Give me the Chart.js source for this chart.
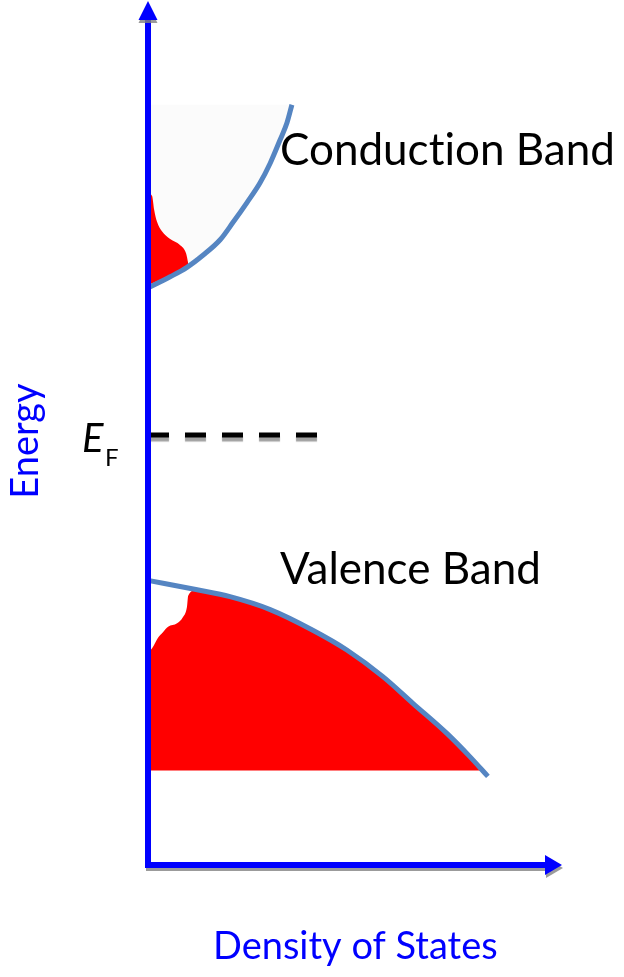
<!DOCTYPE html>
<html>
<head>
<meta charset="utf-8">
<script src="https://cdn.jsdelivr.net/npm/chart.js@4.4.1/dist/chart.umd.min.js"></script>
<style>
  html, body { margin: 0; padding: 0; background: #ffffff; }
  #wrap { width: 624px; height: 977px; }
</style>
</head>
<body>
<div id="wrap"><canvas id="dos-chart" width="624" height="977"></canvas></div>
<script>
// density of states (x) vs energy (y), arbitrary units
const conductionDos = [0, 0.54, 0.95, 1.34, 1.76, 2.07, 2.41, 2.73, 2.98, 3.22, 3.39, 3.51];
const conductionEnergy = [6.71, 6.84, 6.95, 7.09, 7.27, 7.47, 7.70, 7.93, 8.16, 8.43, 8.63, 8.84];
const conductionTop = 8.84;

// occupied electrons in the conduction band (upper and lower edge)
const electronTopDos = [0, 0.10, 0.15, 0.22, 0.34, 0.54, 0.78, 0.93, 0.98];
const electronTopEnergy = [7.81, 7.78, 7.62, 7.48, 7.37, 7.28, 7.21, 7.11, 7.00];
const electronLowDos = [0, 0.54, 0.98];
const electronLowEnergy = [6.74, 6.86, 6.97];

const valenceDos = [0, 1.20, 2.00, 2.98, 4.02, 4.85, 5.73, 6.46, 7.29, 7.85, 8.29];
const valenceEnergy = [3.31, 3.20, 3.12, 2.97, 2.73, 2.50, 2.19, 1.88, 1.53, 1.26, 1.03];

// filled part of the valence band, with the hole notch near the band edge
const filledDos = [0, 0.10, 0.24, 0.37, 0.49, 0.71, 0.85, 0.95, 0.98, 1.20, 2.00, 2.98, 4.02, 4.85, 5.73, 6.46, 7.29, 7.85, 8.15];
const filledEnergy = [2.48, 2.52, 2.64, 2.71, 2.77, 2.81, 2.88, 3.00, 3.13, 3.20, 3.12, 2.97, 2.73, 2.50, 2.19, 1.88, 1.53, 1.26, 1.10];
const filledBottom = 1.10;

const fermiDos = [0, 4.15];
const fermiEnergy = [5.0, 5.0];

function toPoints(xs, ys) {
    return xs.map((x, i) => ({ x: x, y: ys[i] }));
}

const AXIS_BLUE = '#0000ff';
const FONT = 'Lato, "Open Sans", sans-serif';

const shadowPlugin = {
    id: 'fermiShadow',
    beforeDatasetDraw(chart, args) {
        if (args.index !== 2) return;
        const ctx = chart.ctx;
        ctx.save();
        ctx.shadowColor = 'rgba(120,120,120,0.7)';
        ctx.shadowOffsetY = 4;
        ctx.shadowBlur = 1;
    },
    afterDatasetDraw(chart, args) {
        if (args.index !== 2) return;
        chart.ctx.restore();
    }
};

const axesPlugin = {
    id: 'arrowAxes',
    afterDatasetsDraw(chart) {
        const ctx = chart.ctx;
        const x = chart.scales.x;
        const y = chart.scales.y;
        const x0 = x.getPixelForValue(0);
        const y0 = y.getPixelForValue(0);
        const top = chart.chartArea.top;
        const right = chart.chartArea.right;

        ctx.save();
        ctx.shadowColor = 'rgba(130,130,130,0.8)';
        ctx.shadowOffsetY = 3;
        ctx.shadowOffsetX = 1;
        ctx.fillStyle = AXIS_BLUE;
        ctx.strokeStyle = AXIS_BLUE;
        ctx.lineWidth = 6;
        ctx.lineCap = 'butt';

        // horizontal axis
        ctx.beginPath();
        ctx.moveTo(x0 - 3, y0);
        ctx.lineTo(right - 13, y0);
        ctx.stroke();
        ctx.beginPath();
        ctx.moveTo(right + 4, y0);
        ctx.lineTo(right - 13, y0 - 10);
        ctx.lineTo(right - 13, y0 + 10);
        ctx.closePath();
        ctx.fill();

        // vertical axis
        ctx.shadowOffsetY = 0;
        ctx.shadowOffsetX = 0;
        ctx.beginPath();
        ctx.moveTo(x0, y0 + 3);
        ctx.lineTo(x0, top + 14);
        ctx.stroke();
        ctx.shadowColor = 'rgba(130,130,130,0.8)';
        ctx.shadowOffsetY = 3;
        ctx.beginPath();
        ctx.moveTo(x0, top - 4);
        ctx.lineTo(x0 - 9.5, top + 15);
        ctx.lineTo(x0 + 9.5, top + 15);
        ctx.closePath();
        ctx.fill();
        ctx.restore();
    },
    afterDraw(chart) {
        const ctx = chart.ctx;
        ctx.save();
        ctx.textBaseline = 'alphabetic';
        ctx.textAlign = 'left';

        ctx.fillStyle = '#000000';
        ctx.font = '44px ' + FONT;
        // zero-width non-joiner keeps Lato from using its "ti" ligature
        ctx.fillText('Conduct\u200Cion Band', 280, 165);
        ctx.fillText('Valence Band', 280, 584);

        ctx.font = 'italic 40px ' + FONT;
        ctx.fillText('E', 82, 452);
        ctx.font = '24px ' + FONT;
        ctx.fillText('F', 105, 466);

        ctx.fillStyle = AXIS_BLUE;
        ctx.font = '38px ' + FONT;
        ctx.fillText('Density of States', 213, 959);

        ctx.translate(38, 441);
        ctx.rotate(-Math.PI / 2);
        ctx.textAlign = 'center';
        ctx.fillText('Energy', 0, 0);
        ctx.restore();
    }
};

const curveStyle = {
    showLine: true,
    pointRadius: 0,
    pointHoverRadius: 0,
    cubicInterpolationMode: 'monotone',
    clip: false
};

new Chart(document.getElementById('dos-chart').getContext('2d'), {
    type: 'scatter',
    data: {
        datasets: [
            {
                label: 'Conduction band',
                data: toPoints(conductionDos, conductionEnergy),
                borderColor: '#5585c2',
                borderWidth: 5,
                fill: false,
                ...curveStyle
            },
            {
                label: 'Valence band',
                data: toPoints(valenceDos, valenceEnergy),
                borderColor: '#5585c2',
                borderWidth: 5,
                fill: false,
                ...curveStyle
            },
            {
                label: 'Fermi level',
                data: toPoints(fermiDos, fermiEnergy),
                borderColor: '#000000',
                borderWidth: 5,
                borderDash: [21, 16],
                borderCapStyle: 'butt',
                fill: false,
                showLine: true,
                pointRadius: 0,
                clip: false
            },
            {
                label: 'Electrons',
                data: toPoints(electronTopDos, electronTopEnergy),
                borderWidth: 0,
                borderColor: 'rgba(0,0,0,0)',
                backgroundColor: '#ff0000',
                fill: '+1',
                ...curveStyle
            },
            {
                label: 'Electrons lower edge',
                data: toPoints(electronLowDos, electronLowEnergy),
                borderWidth: 0,
                borderColor: 'rgba(0,0,0,0)',
                fill: false,
                ...curveStyle
            },
            {
                label: 'Filled states',
                data: toPoints(filledDos, filledEnergy),
                borderWidth: 0,
                borderColor: 'rgba(0,0,0,0)',
                backgroundColor: '#ff0000',
                fill: { value: filledBottom },
                ...curveStyle
            },
            {
                label: 'Empty states',
                data: toPoints(conductionDos, conductionEnergy),
                borderWidth: 0,
                borderColor: 'rgba(0,0,0,0)',
                backgroundColor: '#fbfbfb',
                fill: { value: conductionTop },
                ...curveStyle
            }
        ]
    },
    options: {
        responsive: false,
        animation: false,
        layout: {
            padding: { left: 148, right: 66, top: 5, bottom: 112 }
        },
        scales: {
            x: { type: 'linear', min: 0, max: 10, display: false },
            y: { type: 'linear', min: 0, max: 10, display: false }
        },
        plugins: {
            legend: { display: false },
            tooltip: { enabled: false }
        },
        events: []
    },
    plugins: [shadowPlugin, axesPlugin]
});
</script>
</body>
</html>
